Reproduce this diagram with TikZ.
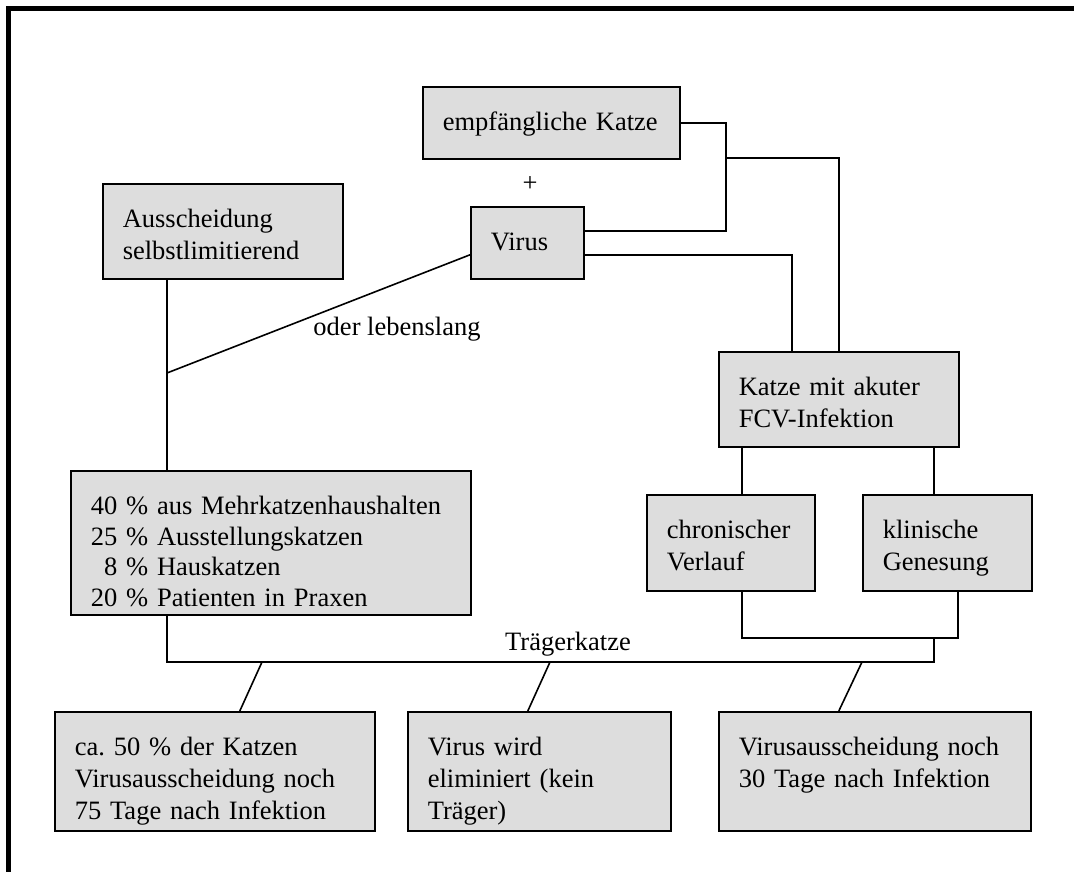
\documentclass[tikz,border=0pt]{standalone}
\usepackage{fontspec}
\setmainfont{Liberation Serif}
\definecolor{boxgray}{RGB}{221,221,221}
\begin{document}
\begin{tikzpicture}[x=1pt, y=-1pt, line width=1.6pt,
    every node/.style={font=\fontsize{26.5}{32}\selectfont},
    box/.style={draw, fill=boxgray, anchor=north west, align=left,
      inner xsep=20pt, inner ysep=0pt, text height=44pt}]
    \useasboundingbox (0,0) rectangle (1074,872);
    \draw[line width=5pt] (8.5,872) -- (8.5,8.5) -- (1074,8.5);

    \node (katze) at (422,86) [box, text width=217pt, text depth=28pt] {empfängliche Katze};
    \node (plus) at (530,192) [anchor=base] {+};
    \node (virus) at (470,206) [box, text width=73pt, text depth=28pt] {Virus};
    \coordinate (kv) at (726,158);
    \draw (katze.east) -| (kv) |- ([yshift=12pt]virus.east);

    \node (akut) at (718,351) [box, text width=200pt, text depth=51pt] {Katze mit akuter\\FCV-Infektion};
    \draw (kv) -| (akut.north);
    \draw ([yshift=-12pt]virus.east) -| ([xshift=-47pt]akut.north);

    \node (aussch) at (102,183) [box, text width=200pt, text depth=51pt] {Ausscheidung\\selbstlimitierend};
    \node (anteil) at (70,470) [box, text width=360pt, text depth=100pt, font=\fontsize{26.5}{30.5}\selectfont]
      {40 \% aus Mehrkatzenhaushalten\\25 \% Ausstellungskatzen\\\phantom{0}8 \% Hauskatzen\\20 \% Patienten in Praxen};
    \coordinate (al) at (167,373);
    \draw (aussch.south -| al) -- (anteil.north -| al);
    \draw ([yshift=-12pt]virus.west) -- (al);
    \node (lebens) at (397,335) [anchor=base] {oder lebenslang};

    \node (chron) at (646,494) [box, text width=128pt, text depth=52pt] {chronischer\\Verlauf};
    \node (klin) at (862,494) [box, text width=129pt, text depth=52pt] {klinische\\Genesung};
    \coordinate (bl) at (742,638);
    \coordinate (bm) at (934,638);
    \coordinate (br) at (958,638);
    \draw (akut.south -| bl) -- (chron.north -| bl);
    \draw (akut.south -| bm) -- (klin.north -| bm);
    \draw (chron.south -| bl) -- (bl) -- (br) -- (klin.south -| br);

    % Traegerkatze
    \coordinate (tl) at (167,662);
    \coordinate (tr) at (934,662);
    \draw (anteil.south -| tl) -- (tl) -- (tr) -- (bm);
    \node (traeger) at (568,650) [anchor=base] {Trägerkatze};

    \node (res1) at (54,711) [box, text width=280pt, text depth=75pt]
      {ca.\ 50 \% der Katzen\\Virusausscheidung noch\\75 Tage nach Infektion};
    \coordinate (t1) at (262,662);
    \draw (t1) -- ([xshift=25pt]res1.north);

    \node (res2) at (407,711) [box, text width=223pt, text depth=75pt] {Virus wird\\eliminiert (kein\\Träger)};
    \coordinate (t2) at (550,662);
    \draw (t2) -- ([xshift=-11.5pt]res2.north);

    \node (res3) at (718,711) [box, text width=272pt, text depth=75pt] {Virusausscheidung noch\\30 Tage nach Infektion};
    \coordinate (t3) at (862,662);
    \draw (t3) -- ([xshift=-36pt]res3.north);
  \end{tikzpicture}
\end{document}
